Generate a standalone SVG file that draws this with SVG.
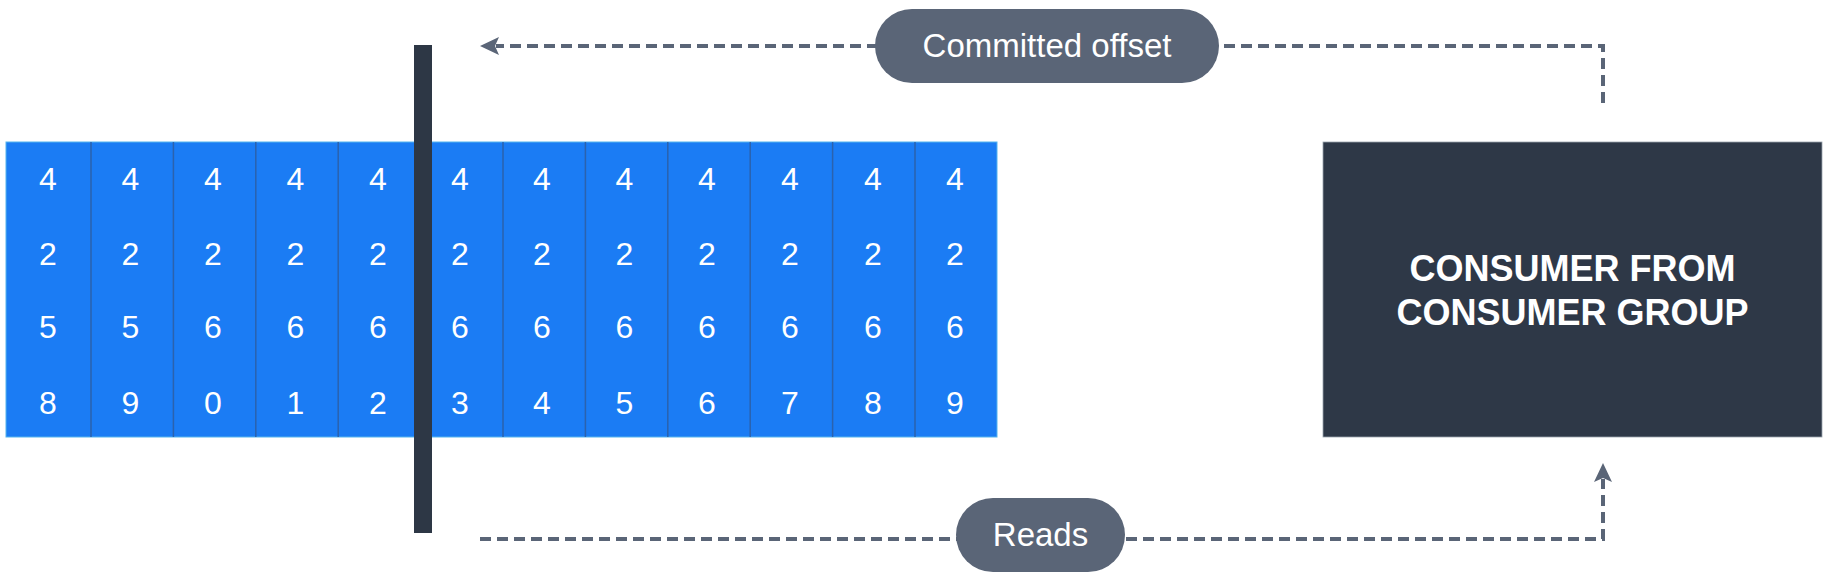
<svg xmlns="http://www.w3.org/2000/svg" width="1842" height="576" viewBox="0 0 1842 576">
<style>
.digit{font-family:"Liberation Sans",Arial,sans-serif;font-size:32px;fill:#ffffff;text-anchor:middle}
.pilltext{font-family:"Liberation Sans",Arial,sans-serif;font-size:33px;fill:#ffffff;text-anchor:middle}
.boxtext{font-family:"Liberation Sans",Arial,sans-serif;font-size:36px;font-weight:bold;fill:#ffffff;text-anchor:middle}
.div{stroke:#2b62ad;stroke-width:1.5}
.dash{fill:none;stroke:#5a6577;stroke-width:4;stroke-dasharray:11 6}
.pill{fill:#5a6577}
.head{fill:#5a6577}
</style>
<rect width="1842" height="576" fill="#ffffff"/>
<g id="log">
<rect x="6" y="142" width="991" height="295" fill="#1b7cf4" stroke="#55b4ee" stroke-width="1"/>
<line class="div" x1="91" y1="142" x2="91" y2="437"/>
<line class="div" x1="173.4" y1="142" x2="173.4" y2="437"/>
<line class="div" x1="255.8" y1="142" x2="255.8" y2="437"/>
<line class="div" x1="338.2" y1="142" x2="338.2" y2="437"/>
<line class="div" x1="503" y1="142" x2="503" y2="437"/>
<line class="div" x1="585.4" y1="142" x2="585.4" y2="437"/>
<line class="div" x1="667.8" y1="142" x2="667.8" y2="437"/>
<line class="div" x1="750.2" y1="142" x2="750.2" y2="437"/>
<line class="div" x1="832.6" y1="142" x2="832.6" y2="437"/>
<line class="div" x1="915" y1="142" x2="915" y2="437"/>
<g class="digit">
<text x="48" y="190">4</text><text x="48" y="265">2</text><text x="48" y="338">5</text><text x="48" y="414">8</text>
<text x="130.5" y="190">4</text><text x="130.5" y="265">2</text><text x="130.5" y="338">5</text><text x="130.5" y="414">9</text>
<text x="213" y="190">4</text><text x="213" y="265">2</text><text x="213" y="338">6</text><text x="213" y="414">0</text>
<text x="295.5" y="190">4</text><text x="295.5" y="265">2</text><text x="295.5" y="338">6</text><text x="295.5" y="414">1</text>
<text x="378" y="190">4</text><text x="378" y="265">2</text><text x="378" y="338">6</text><text x="378" y="414">2</text>
<text x="460" y="190">4</text><text x="460" y="265">2</text><text x="460" y="338">6</text><text x="460" y="414">3</text>
<text x="542" y="190">4</text><text x="542" y="265">2</text><text x="542" y="338">6</text><text x="542" y="414">4</text>
<text x="624.5" y="190">4</text><text x="624.5" y="265">2</text><text x="624.5" y="338">6</text><text x="624.5" y="414">5</text>
<text x="707" y="190">4</text><text x="707" y="265">2</text><text x="707" y="338">6</text><text x="707" y="414">6</text>
<text x="790" y="190">4</text><text x="790" y="265">2</text><text x="790" y="338">6</text><text x="790" y="414">7</text>
<text x="873" y="190">4</text><text x="873" y="265">2</text><text x="873" y="338">6</text><text x="873" y="414">8</text>
<text x="955" y="190">4</text><text x="955" y="265">2</text><text x="955" y="338">6</text><text x="955" y="414">9</text>
</g>
</g>
<g id="offset-marker">
<rect x="414" y="45" width="18" height="488" fill="#2d3745"/>
</g>
<g id="consumer">
<rect x="1323" y="142" width="499" height="295" fill="#2e3847" stroke="#9aa3ad" stroke-width="0.8"/>
<text class="boxtext" x="1572.5" y="281">CONSUMER FROM</text>
<text class="boxtext" x="1572.5" y="325">CONSUMER GROUP</text>
</g>
<g id="connectors">
<path class="dash" d="M1603,103 L1603,46 L496,46"/>
<path class="head" d="M480,46 L499,37 L495,46 L499,55 Z"/>
<path class="dash" d="M480,539 L1603,539 L1603,479"/>
<path class="head" d="M1603,463 L1612,482 L1603,478 L1594,482 Z"/>
</g>
<g id="label-committed">
<rect class="pill" x="875" y="9" width="344" height="74" rx="37"/>
<text class="pilltext" x="1047" y="57">Committed offset</text>
</g>
<g id="label-reads">
<rect class="pill" x="956" y="498" width="169" height="74" rx="37"/>
<text class="pilltext" x="1040.5" y="546">Reads</text>
</g>
</svg>
